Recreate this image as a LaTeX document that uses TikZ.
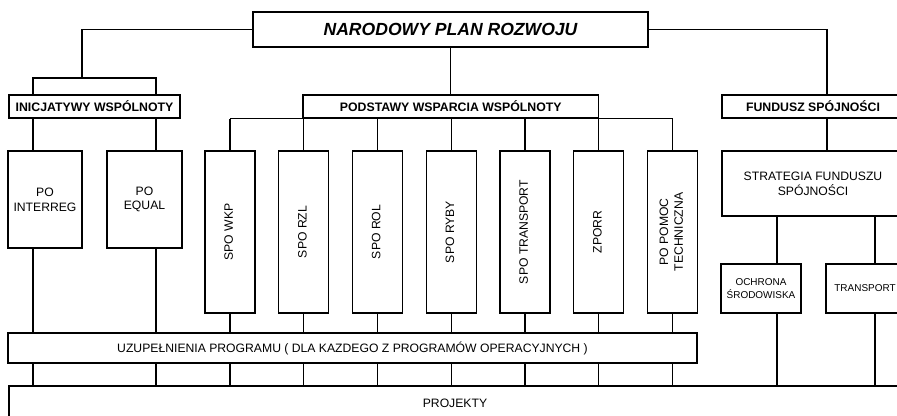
\documentclass[tikz,border=0pt]{standalone}
\usepackage{fontspec}
\setmainfont{Liberation Sans}
\usepackage{graphicx}
\usetikzlibrary{calc}
\tikzset{>=latex}

\newcommand{\vtext}[1]{\rotatebox{90}{\begin{tabular}{@{}c@{}}#1\end{tabular}}}

\begin{document}
\begin{tikzpicture}[
        x=0.03cm, y=-0.03cm,
        box/.style={draw, line width=1pt, inner sep=1pt, align=center, font=\fontsize{10.4}{12.5}\selectfont},
        head/.style={box, line width=1.3pt, minimum height=0.69cm, font=\fontsize{10.5}{12.5}\selectfont\bfseries},
        spobox/.style={box, minimum width=1.5cm, minimum height=4.86cm},
        small/.style={box, minimum height=1.47cm, font=\fontsize{8.5}{10.8}\selectfont},
        connect/.style={line width=1pt}
    ]
    \clip (0,0) rectangle (897,415);

    %=== Top level ===%
    \node[box, line width=1.5pt, minimum width=11.85cm, minimum height=1.05cm,
          font=\fontsize{15}{17}\selectfont\bfseries\itshape] (npr) at (450.5,29.5) {NARODOWY PLAN ROZWOJU};

    \node[head, minimum width=5.13cm] (iw) at (94.5,106.5) {INICJATYWY WSPÓLNOTY};
    \node[head, minimum width=8.87cm] (pws) at (450.75,106.5) {PODSTAWY WSPARCIA WSPÓLNOTY};
    \node[head, minimum width=5.46cm] (fs) at (813,106.5) {FUNDUSZ SPÓJNOŚCI};

    %=== Programmes ===%
    \node[box, minimum width=2.22cm, minimum height=2.91cm] (interreg) at (45,199.5) {PO\\INTERREG};
    \node[box, minimum width=2.25cm, minimum height=2.91cm] (equal) at (144.5,199.5) {PO\\EQUAL};

    \foreach \name/\txt [count=\i from 0] in {wkp/SPO WKP, rzl/SPO RZL, rol/SPO ROL, ryby/SPO RYBY,
            tr/SPO TRANSPORT, zporr/ZPORR, pt/PO POMOC\\TECHNICZNA}
        \node[spobox] (\name) at ({230+73.75*\i},232) {\vtext{\txt}};

    \node[box, minimum width=5.46cm, minimum height=1.95cm] (sfs) at (813,183.5) {STRATEGIA FUNDUSZU\\SPÓJNOŚCI};
    \node[small, minimum width=2.4cm] (och) at (761,288.5) {OCHRONA\\ŚRODOWISKA};
    \node[small, minimum width=2.34cm] (trans) at (865,288.5) {TRANSPORT};

    %=== Bottom ===%
    \node[box, line width=1.3pt, minimum width=20.67cm, minimum height=0.9cm] (uzup) at (352.5,348)
        {UZUPEŁNIENIA PROGRAMU ( DLA KAZDEGO Z PROGRAMÓW OPERACYJNYCH )};
    \node[box, minimum width=26.76cm, minimum height=1.02cm] (proj) at (455,403) {PROJEKTY};

    %=== Connectors ===%
    \coordinate (k1) at (33,0);
    \coordinate (k2) at (156,0);
    \coordinate (k3) at (777,0);
    \coordinate (k4) at (875,0);
    \coordinate (k5) at (827,0);
    \coordinate (knee) at (82,78);

    \draw[connect] (npr.west) -| (knee);
    \draw[connect] (k1 |- iw.north) -- (k1 |- knee) -- (k2 |- knee) -- (k2 |- iw.north);
    \foreach \k in {k1,k2} {
        \draw[connect] (\k |- iw.south) -- (\k |- interreg.north);
        \draw[connect] (\k |- interreg.south) -- (\k |- uzup.north);
        \draw[connect] (\k |- uzup.south) -- (\k |- proj.north);
    }

    \draw[connect] (npr.south) -- (npr.south |- pws.north);
    \draw[connect] (wkp.north |- pws.south) -- (pt.north |- pws.south);
    \foreach \name in {wkp,rzl,rol,ryby,tr,zporr,pt} {
        \draw[connect] (\name.north |- pws.south) -- (\name.north);
        \draw[connect] (\name.south) -- (\name.south |- uzup.north);
        \draw[connect] (\name.south |- uzup.south) -- (\name.south |- proj.north);
    }

    \draw[connect] (npr.east) -| (k5 |- fs.north);
    \draw[connect] (k5 |- fs.south) -- (k5 |- sfs.north);
    \foreach \k in {k3,k4} {
        \draw[connect] (\k |- sfs.south) -- (\k |- och.north);
        \draw[connect] (\k |- och.south) -- (\k |- proj.north);
    }
\end{tikzpicture}
\end{document}
